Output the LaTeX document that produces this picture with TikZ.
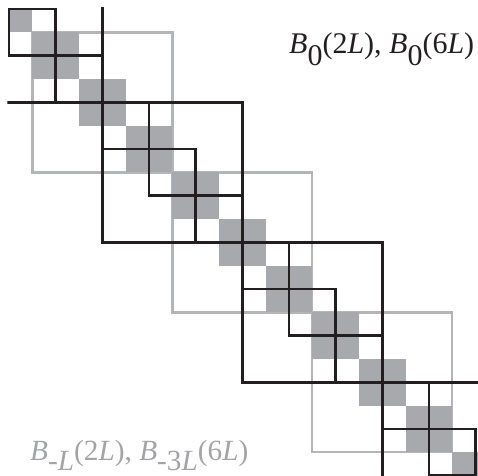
\documentclass[tikz,border=0pt]{standalone}
\usepackage{fontspec}
\setmainfont{Liberation Serif}
\definecolor{blk}{HTML}{231F20}
\definecolor{fillg}{HTML}{A7A9AC}
\definecolor{lineg}{HTML}{B4B5B7}
\definecolor{txtg}{HTML}{A3A4A7}
\begin{document}
\begin{tikzpicture}[x=1pt,y=-1pt,
  blackline/.style={draw=blk,line width=2.6pt},
  grayline/.style={draw=lineg,line width=2.4pt},
  cellfill/.style={fill=fillg},
  lbl/.style={anchor=base west,inner sep=0pt,font=\fontsize{30}{36}\selectfont}]
\useasboundingbox (0,0) rectangle (478,475);
\begin{scope}[shift={(9pt,-9pt)},x=23.33pt,y=-23.33pt]
  \clip (-0.07,-0.07) rectangle (20.1,19.98);
  \foreach \k in {1,7,13} \draw[grayline] (\k,\k) rectangle ++(6,6);
  \fill[cellfill] (0,0) rectangle (1,1);
  \foreach \k in {0,...,9} \fill[cellfill] ({2*\k+1},{2*\k+1}) rectangle ++(2,2);
  \foreach \k in {-2,4,10,16} \draw[blackline] (\k,\k) rectangle ++(6,6);
  \foreach \k in {0,...,9} \draw[blackline] ({2*\k},{2*\k}) rectangle ++(2,2);
\end{scope}
\node[lbl,text=blk] (toplabel) at (289,53.3) {\textit{B}\raisebox{-12pt}{0}(2\textit{L}), \textit{B}\raisebox{-12pt}{0}(6\textit{L})};
\node[lbl,text=txtg,font=\fontsize{29.3}{35}\selectfont] (botlabel) at (30,460) {\textit{B}\raisebox{-10pt}{-\textit{L}}(2\textit{L}), \textit{B}\raisebox{-10pt}{-3\textit{L}}(6\textit{L})};
\end{tikzpicture}
\end{document}
